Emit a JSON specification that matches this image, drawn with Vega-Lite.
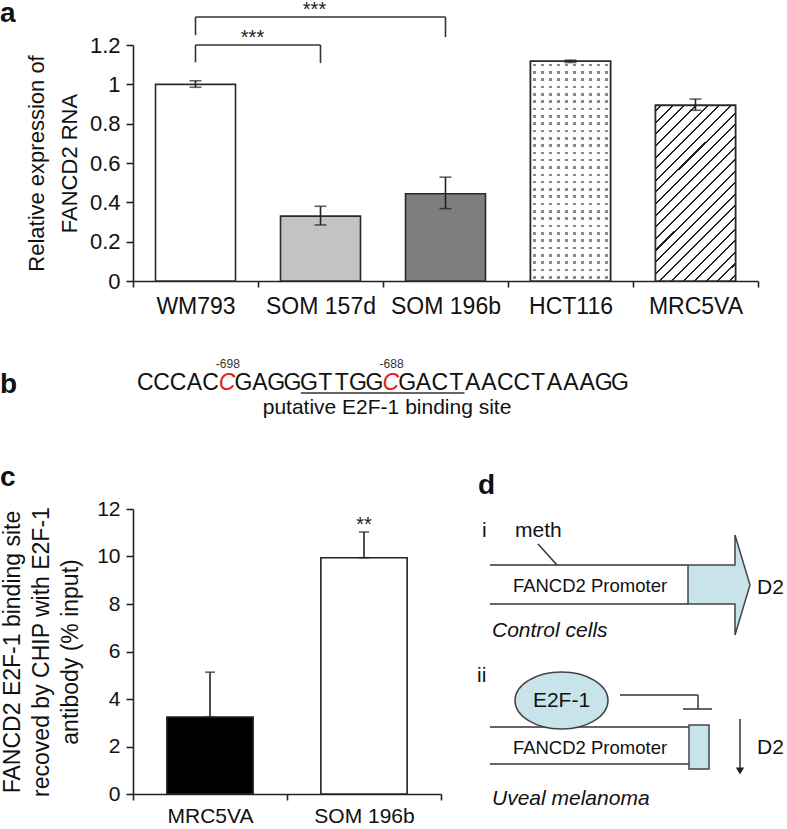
{
"$schema":"https://vega.github.io/schema/vega-lite/v6.json",
"background":"white",
"padding":0,
"config":{
 "font":"Liberation Sans",
 "view":{"stroke":null},
 "axis":{"grid":false,"domainColor":"#222222","tickColor":"#222222","domainWidth":1.6,"tickWidth":1.6,"labelColor":"#111111","titleColor":"#111111","labelFont":"Liberation Sans","titleFont":"Liberation Sans","titleFontWeight":"normal","labelOverlap":false},
 "title":{"font":"Liberation Sans","fontWeight":"bold","fontSize":28,"anchor":"start","frame":"group","color":"#111111","baseline":"alphabetic"}
},
"resolve":{"scale":{"color":"independent"}},
"datasets":{
 "expr":[
  {"cell":"WM793","value":1.0,"lo":0.985,"hi":1.018},
  {"cell":"SOM 157d","value":0.33,"lo":0.285,"hi":0.38},
  {"cell":"SOM 196b","value":0.444,"lo":0.368,"hi":0.528},
  {"cell":"HCT116","value":1.117,"lo":1.111,"hi":1.123},
  {"cell":"MRC5VA","value":0.893,"lo":0.868,"hi":0.925}
 ],
 "brackets":[
  {"pair":"low","from":"WM793","to":"SOM 157d","level":1.2,"legL":1.112,"legR":1.108,"stars":"***"},
  {"pair":"high","from":"WM793","to":"SOM 196b","level":1.342,"legL":1.25,"legR":1.24,"stars":"***"}
 ],
 "chip":[
  {"cell":"MRC5VA","value":3.24,"hi":5.13},
  {"cell":"SOM 196b","value":9.95,"hi":11.03,"sig":"**"}
 ],
 "seq":[
  {"i":0,"ch":"C","meth":false},{"i":1,"ch":"C","meth":false},{"i":2,"ch":"C","meth":false},{"i":3,"ch":"A","meth":false},{"i":4,"ch":"C","meth":false},
  {"i":5,"ch":"C","meth":true,"pos":"-698"},
  {"i":6,"ch":"G","meth":false},{"i":7,"ch":"A","meth":false},{"i":8,"ch":"G","meth":false},{"i":9,"ch":"G","meth":false},
  {"i":10,"ch":"G","meth":false},{"i":11,"ch":"T","meth":false},{"i":12,"ch":"T","meth":false},{"i":13,"ch":"G","meth":false},{"i":14,"ch":"G","meth":false},
  {"i":15,"ch":"C","meth":true,"pos":"-688"},
  {"i":16,"ch":"G","meth":false},{"i":17,"ch":"A","meth":false},{"i":18,"ch":"C","meth":false},{"i":19,"ch":"T","meth":false},
  {"i":20,"ch":"A","meth":false},{"i":21,"ch":"A","meth":false},{"i":22,"ch":"C","meth":false},{"i":23,"ch":"C","meth":false},{"i":24,"ch":"T","meth":false},
  {"i":25,"ch":"A","meth":false},{"i":26,"ch":"A","meth":false},{"i":27,"ch":"A","meth":false},{"i":28,"ch":"G","meth":false},{"i":29,"ch":"G","meth":false}
 ],
 "sites":[{"start":10,"end":20,"label":"putative E2F-1 binding site"}],
 "segments":[
  {"x":63,"y":35,"x2":82,"y2":56},
  {"x":15,"y":56,"x2":213,"y2":56},
  {"x":15,"y":95,"x2":213,"y2":95},
  {"x":15,"y":218,"x2":214,"y2":218},
  {"x":15,"y":255,"x2":214,"y2":255},
  {"x":145,"y":186,"x2":223,"y2":186},
  {"x":223,"y":186,"x2":223,"y2":200},
  {"x":208,"y":200,"x2":237,"y2":200},
  {"x":265,"y":210,"x2":265,"y2":259}
 ],
 "arrow":[
  {"k":0,"x":213,"y":56},{"k":1,"x":260,"y":56},{"k":2,"x":260,"y":26},{"k":3,"x":275,"y":76},
  {"k":4,"x":260,"y":126},{"k":5,"x":260,"y":95},{"k":6,"x":213,"y":95},{"k":7,"x":213,"y":56}
 ],
 "block":[{"x":214,"x2":234,"y":216,"y2":260}],
 "e2f":[{"x":86.5,"y":191.5,"label":"E2F-1"}],
 "arrowhead":[{"x":265,"y":262}],
 "notes":[
  {"kind":"roman","text":"i","x":7,"y":28},
  {"kind":"roman","text":"meth","x":40,"y":28},
  {"kind":"roman","text":"D2","x":282,"y":85},
  {"kind":"roman","text":"ii","x":2,"y":173},
  {"kind":"roman","text":"D2","x":282,"y":245},
  {"kind":"promoter","text":"FANCD2 Promoter","x":115,"y":83},
  {"kind":"promoter","text":"FANCD2 Promoter","x":115,"y":245},
  {"kind":"cells","text":"Control cells","x":17,"y":128},
  {"kind":"cells","text":"Uveal melanoma","x":17,"y":296}
 ]
},
"spacing":66,
"bounds":"flush",
"vconcat":[
 {
  "width":625,"height":236,
  "title":{"text":"a","dx":-133,"offset":-28},
  "data":{"name":"expr"},
  "resolve":{"axis":{"x":"independent","y":"independent"}},
  "layer":[
   {"mark":{"type":"bar","stroke":"#2a2a2a","strokeWidth":1.6,"width":{"band":0.64}},
    "encoding":{
     "x":{"field":"cell","type":"nominal","scale":{"domain":["WM793","SOM 157d","SOM 196b","HCT116","MRC5VA"],"paddingInner":0,"paddingOuter":0},"axis":{"title":null,"labelAngle":0,"tickBand":"extent","tickSize":6,"labelPadding":8,"labelFontSize":23}},
     "y":{"field":"value","type":"quantitative","scale":{"domain":[0,1.2],"nice":false},"axis":{"title":["Relative expression of","FANCD2 RNA"],"values":[0,0.2,0.4,0.6,0.8,1,1.2],"format":".1~f","tickSize":7,"labelPadding":6,"labelFontSize":22,"titleFontSize":22,"titleLineHeight":33,"titlePadding":8}},
     "color":{"field":"cell","type":"nominal","scale":{"domain":["WM793","SOM 157d","SOM 196b","HCT116","MRC5VA"],"range":["#ffffff","#c3c3c3","#7e7e7e","#ffffff","#ffffff"]},"legend":null}
    }},
   {"transform":[{"filter":"datum.cell === 'HCT116'"}],
    "mark":{"type":"bar","strokeWidth":0,"width":{"band":0.64},"fill":{"gradient":"linear","x1":0,"y1":0,"x2":1,"y2":0,"stops":[
     {"offset":0,"color":"#ffffff"},
     {"offset":0.034,"color":"#ffffff"},{"offset":0.034,"color":"#8a8a8a"},{"offset":0.066,"color":"#8a8a8a"},{"offset":0.066,"color":"#ffffff"},
     {"offset":0.134,"color":"#ffffff"},{"offset":0.134,"color":"#8a8a8a"},{"offset":0.166,"color":"#8a8a8a"},{"offset":0.166,"color":"#ffffff"},
     {"offset":0.234,"color":"#ffffff"},{"offset":0.234,"color":"#8a8a8a"},{"offset":0.266,"color":"#8a8a8a"},{"offset":0.266,"color":"#ffffff"},
     {"offset":0.334,"color":"#ffffff"},{"offset":0.334,"color":"#8a8a8a"},{"offset":0.366,"color":"#8a8a8a"},{"offset":0.366,"color":"#ffffff"},
     {"offset":0.434,"color":"#ffffff"},{"offset":0.434,"color":"#8a8a8a"},{"offset":0.466,"color":"#8a8a8a"},{"offset":0.466,"color":"#ffffff"},
     {"offset":0.534,"color":"#ffffff"},{"offset":0.534,"color":"#8a8a8a"},{"offset":0.566,"color":"#8a8a8a"},{"offset":0.566,"color":"#ffffff"},
     {"offset":0.634,"color":"#ffffff"},{"offset":0.634,"color":"#8a8a8a"},{"offset":0.666,"color":"#8a8a8a"},{"offset":0.666,"color":"#ffffff"},
     {"offset":0.734,"color":"#ffffff"},{"offset":0.734,"color":"#8a8a8a"},{"offset":0.766,"color":"#8a8a8a"},{"offset":0.766,"color":"#ffffff"},
     {"offset":0.834,"color":"#ffffff"},{"offset":0.834,"color":"#8a8a8a"},{"offset":0.866,"color":"#8a8a8a"},{"offset":0.866,"color":"#ffffff"},
     {"offset":0.934,"color":"#ffffff"},{"offset":0.934,"color":"#8a8a8a"},{"offset":0.966,"color":"#8a8a8a"},{"offset":0.966,"color":"#ffffff"},
     {"offset":1,"color":"#ffffff"}]}},
    "encoding":{"x":{"field":"cell","type":"nominal","axis":null},"y":{"field":"value","type":"quantitative","axis":null}}},
   {"transform":[{"filter":"datum.cell === 'HCT116'"}],
    "mark":{"type":"bar","stroke":"#2a2a2a","strokeWidth":1.6,"width":{"band":0.64},"fill":{"gradient":"linear","x1":0,"y1":0,"x2":0,"y2":1,"stops":[
     {"offset":0,"color":"#ffffff"},
     {"offset":0.0107,"color":"#ffffff"},{"offset":0.0107,"color":"rgba(255,255,255,0)"},{"offset":0.0227,"color":"rgba(255,255,255,0)"},{"offset":0.0227,"color":"#ffffff"},
     {"offset":0.044,"color":"#ffffff"},{"offset":0.044,"color":"rgba(255,255,255,0)"},{"offset":0.056,"color":"rgba(255,255,255,0)"},{"offset":0.056,"color":"#ffffff"},
     {"offset":0.0773,"color":"#ffffff"},{"offset":0.0773,"color":"rgba(255,255,255,0)"},{"offset":0.0893,"color":"rgba(255,255,255,0)"},{"offset":0.0893,"color":"#ffffff"},
     {"offset":0.1107,"color":"#ffffff"},{"offset":0.1107,"color":"rgba(255,255,255,0)"},{"offset":0.1227,"color":"rgba(255,255,255,0)"},{"offset":0.1227,"color":"#ffffff"},
     {"offset":0.144,"color":"#ffffff"},{"offset":0.144,"color":"rgba(255,255,255,0)"},{"offset":0.156,"color":"rgba(255,255,255,0)"},{"offset":0.156,"color":"#ffffff"},
     {"offset":0.1773,"color":"#ffffff"},{"offset":0.1773,"color":"rgba(255,255,255,0)"},{"offset":0.1893,"color":"rgba(255,255,255,0)"},{"offset":0.1893,"color":"#ffffff"},
     {"offset":0.2107,"color":"#ffffff"},{"offset":0.2107,"color":"rgba(255,255,255,0)"},{"offset":0.2227,"color":"rgba(255,255,255,0)"},{"offset":0.2227,"color":"#ffffff"},
     {"offset":0.244,"color":"#ffffff"},{"offset":0.244,"color":"rgba(255,255,255,0)"},{"offset":0.256,"color":"rgba(255,255,255,0)"},{"offset":0.256,"color":"#ffffff"},
     {"offset":0.2773,"color":"#ffffff"},{"offset":0.2773,"color":"rgba(255,255,255,0)"},{"offset":0.2893,"color":"rgba(255,255,255,0)"},{"offset":0.2893,"color":"#ffffff"},
     {"offset":0.3107,"color":"#ffffff"},{"offset":0.3107,"color":"rgba(255,255,255,0)"},{"offset":0.3227,"color":"rgba(255,255,255,0)"},{"offset":0.3227,"color":"#ffffff"},
     {"offset":0.344,"color":"#ffffff"},{"offset":0.344,"color":"rgba(255,255,255,0)"},{"offset":0.356,"color":"rgba(255,255,255,0)"},{"offset":0.356,"color":"#ffffff"},
     {"offset":0.3773,"color":"#ffffff"},{"offset":0.3773,"color":"rgba(255,255,255,0)"},{"offset":0.3893,"color":"rgba(255,255,255,0)"},{"offset":0.3893,"color":"#ffffff"},
     {"offset":0.4107,"color":"#ffffff"},{"offset":0.4107,"color":"rgba(255,255,255,0)"},{"offset":0.4227,"color":"rgba(255,255,255,0)"},{"offset":0.4227,"color":"#ffffff"},
     {"offset":0.444,"color":"#ffffff"},{"offset":0.444,"color":"rgba(255,255,255,0)"},{"offset":0.456,"color":"rgba(255,255,255,0)"},{"offset":0.456,"color":"#ffffff"},
     {"offset":0.4773,"color":"#ffffff"},{"offset":0.4773,"color":"rgba(255,255,255,0)"},{"offset":0.4893,"color":"rgba(255,255,255,0)"},{"offset":0.4893,"color":"#ffffff"},
     {"offset":0.5107,"color":"#ffffff"},{"offset":0.5107,"color":"rgba(255,255,255,0)"},{"offset":0.5227,"color":"rgba(255,255,255,0)"},{"offset":0.5227,"color":"#ffffff"},
     {"offset":0.544,"color":"#ffffff"},{"offset":0.544,"color":"rgba(255,255,255,0)"},{"offset":0.556,"color":"rgba(255,255,255,0)"},{"offset":0.556,"color":"#ffffff"},
     {"offset":0.5773,"color":"#ffffff"},{"offset":0.5773,"color":"rgba(255,255,255,0)"},{"offset":0.5893,"color":"rgba(255,255,255,0)"},{"offset":0.5893,"color":"#ffffff"},
     {"offset":0.6107,"color":"#ffffff"},{"offset":0.6107,"color":"rgba(255,255,255,0)"},{"offset":0.6227,"color":"rgba(255,255,255,0)"},{"offset":0.6227,"color":"#ffffff"},
     {"offset":0.644,"color":"#ffffff"},{"offset":0.644,"color":"rgba(255,255,255,0)"},{"offset":0.656,"color":"rgba(255,255,255,0)"},{"offset":0.656,"color":"#ffffff"},
     {"offset":0.6773,"color":"#ffffff"},{"offset":0.6773,"color":"rgba(255,255,255,0)"},{"offset":0.6893,"color":"rgba(255,255,255,0)"},{"offset":0.6893,"color":"#ffffff"},
     {"offset":0.7107,"color":"#ffffff"},{"offset":0.7107,"color":"rgba(255,255,255,0)"},{"offset":0.7227,"color":"rgba(255,255,255,0)"},{"offset":0.7227,"color":"#ffffff"},
     {"offset":0.744,"color":"#ffffff"},{"offset":0.744,"color":"rgba(255,255,255,0)"},{"offset":0.756,"color":"rgba(255,255,255,0)"},{"offset":0.756,"color":"#ffffff"},
     {"offset":0.7773,"color":"#ffffff"},{"offset":0.7773,"color":"rgba(255,255,255,0)"},{"offset":0.7893,"color":"rgba(255,255,255,0)"},{"offset":0.7893,"color":"#ffffff"},
     {"offset":0.8107,"color":"#ffffff"},{"offset":0.8107,"color":"rgba(255,255,255,0)"},{"offset":0.8227,"color":"rgba(255,255,255,0)"},{"offset":0.8227,"color":"#ffffff"},
     {"offset":0.844,"color":"#ffffff"},{"offset":0.844,"color":"rgba(255,255,255,0)"},{"offset":0.856,"color":"rgba(255,255,255,0)"},{"offset":0.856,"color":"#ffffff"},
     {"offset":0.8773,"color":"#ffffff"},{"offset":0.8773,"color":"rgba(255,255,255,0)"},{"offset":0.8893,"color":"rgba(255,255,255,0)"},{"offset":0.8893,"color":"#ffffff"},
     {"offset":0.9107,"color":"#ffffff"},{"offset":0.9107,"color":"rgba(255,255,255,0)"},{"offset":0.9227,"color":"rgba(255,255,255,0)"},{"offset":0.9227,"color":"#ffffff"},
     {"offset":0.944,"color":"#ffffff"},{"offset":0.944,"color":"rgba(255,255,255,0)"},{"offset":0.956,"color":"rgba(255,255,255,0)"},{"offset":0.956,"color":"#ffffff"},
     {"offset":0.9773,"color":"#ffffff"},{"offset":0.9773,"color":"rgba(255,255,255,0)"},{"offset":0.9893,"color":"rgba(255,255,255,0)"},{"offset":0.9893,"color":"#ffffff"},
     {"offset":1,"color":"#ffffff"}]}},
    "encoding":{"x":{"field":"cell","type":"nominal","axis":null},"y":{"field":"value","type":"quantitative","axis":null}}},
   {"transform":[{"filter":"datum.cell === 'MRC5VA'"}],
    "mark":{"type":"bar","stroke":"#2a2a2a","strokeWidth":1.6,"width":{"band":0.64},"fill":{"gradient":"linear","x1":0,"y1":0,"x2":0.548,"y2":1.205,"stops":[
     {"offset":0,"color":"#ffffff"},
     {"offset":0.0187,"color":"#ffffff"},{"offset":0.0187,"color":"#222222"},{"offset":0.0267,"color":"#222222"},{"offset":0.0267,"color":"#ffffff"},
     {"offset":0.0642,"color":"#ffffff"},{"offset":0.0642,"color":"#222222"},{"offset":0.0722,"color":"#222222"},{"offset":0.0722,"color":"#ffffff"},
     {"offset":0.1096,"color":"#ffffff"},{"offset":0.1096,"color":"#222222"},{"offset":0.1176,"color":"#222222"},{"offset":0.1176,"color":"#ffffff"},
     {"offset":0.1551,"color":"#ffffff"},{"offset":0.1551,"color":"#222222"},{"offset":0.1631,"color":"#222222"},{"offset":0.1631,"color":"#ffffff"},
     {"offset":0.2005,"color":"#ffffff"},{"offset":0.2005,"color":"#222222"},{"offset":0.2085,"color":"#222222"},{"offset":0.2085,"color":"#ffffff"},
     {"offset":0.246,"color":"#ffffff"},{"offset":0.246,"color":"#222222"},{"offset":0.254,"color":"#222222"},{"offset":0.254,"color":"#ffffff"},
     {"offset":0.2915,"color":"#ffffff"},{"offset":0.2915,"color":"#222222"},{"offset":0.2995,"color":"#222222"},{"offset":0.2995,"color":"#ffffff"},
     {"offset":0.3369,"color":"#ffffff"},{"offset":0.3369,"color":"#222222"},{"offset":0.3449,"color":"#222222"},{"offset":0.3449,"color":"#ffffff"},
     {"offset":0.3824,"color":"#ffffff"},{"offset":0.3824,"color":"#222222"},{"offset":0.3904,"color":"#222222"},{"offset":0.3904,"color":"#ffffff"},
     {"offset":0.4278,"color":"#ffffff"},{"offset":0.4278,"color":"#222222"},{"offset":0.4358,"color":"#222222"},{"offset":0.4358,"color":"#ffffff"},
     {"offset":0.4733,"color":"#ffffff"},{"offset":0.4733,"color":"#222222"},{"offset":0.4813,"color":"#222222"},{"offset":0.4813,"color":"#ffffff"},
     {"offset":0.5187,"color":"#ffffff"},{"offset":0.5187,"color":"#222222"},{"offset":0.5267,"color":"#222222"},{"offset":0.5267,"color":"#ffffff"},
     {"offset":0.5642,"color":"#ffffff"},{"offset":0.5642,"color":"#222222"},{"offset":0.5722,"color":"#222222"},{"offset":0.5722,"color":"#ffffff"},
     {"offset":0.6096,"color":"#ffffff"},{"offset":0.6096,"color":"#222222"},{"offset":0.6176,"color":"#222222"},{"offset":0.6176,"color":"#ffffff"},
     {"offset":0.6551,"color":"#ffffff"},{"offset":0.6551,"color":"#222222"},{"offset":0.6631,"color":"#222222"},{"offset":0.6631,"color":"#ffffff"},
     {"offset":0.7005,"color":"#ffffff"},{"offset":0.7005,"color":"#222222"},{"offset":0.7085,"color":"#222222"},{"offset":0.7085,"color":"#ffffff"},
     {"offset":0.746,"color":"#ffffff"},{"offset":0.746,"color":"#222222"},{"offset":0.754,"color":"#222222"},{"offset":0.754,"color":"#ffffff"},
     {"offset":0.7915,"color":"#ffffff"},{"offset":0.7915,"color":"#222222"},{"offset":0.7995,"color":"#222222"},{"offset":0.7995,"color":"#ffffff"},
     {"offset":0.8369,"color":"#ffffff"},{"offset":0.8369,"color":"#222222"},{"offset":0.8449,"color":"#222222"},{"offset":0.8449,"color":"#ffffff"},
     {"offset":0.8824,"color":"#ffffff"},{"offset":0.8824,"color":"#222222"},{"offset":0.8904,"color":"#222222"},{"offset":0.8904,"color":"#ffffff"},
     {"offset":0.9278,"color":"#ffffff"},{"offset":0.9278,"color":"#222222"},{"offset":0.9358,"color":"#222222"},{"offset":0.9358,"color":"#ffffff"},
     {"offset":0.9733,"color":"#ffffff"},{"offset":0.9733,"color":"#222222"},{"offset":0.9813,"color":"#222222"},{"offset":0.9813,"color":"#ffffff"},
     {"offset":1,"color":"#ffffff"}]}},
    "encoding":{"x":{"field":"cell","type":"nominal","axis":null},"y":{"field":"value","type":"quantitative","axis":null}}},
   {"mark":{"type":"errorbar","ticks":{"size":12},"color":"#222222","thickness":1.6},
    "encoding":{"x":{"field":"cell","type":"nominal","axis":null},"y":{"field":"lo","type":"quantitative","axis":null},"y2":{"field":"hi"}}},
   {"data":{"name":"brackets"},"mark":{"type":"rule","color":"#333333","strokeWidth":1.6},
    "encoding":{"x":{"field":"from","type":"nominal","bandPosition":0.5,"axis":null},"x2":{"field":"to","bandPosition":0.5},"y":{"field":"level","type":"quantitative","axis":null}}},
   {"data":{"name":"brackets"},"mark":{"type":"rule","color":"#333333","strokeWidth":1.6},
    "encoding":{"x":{"field":"from","type":"nominal","bandPosition":0.5,"axis":null},"y":{"field":"level","type":"quantitative","axis":null},"y2":{"field":"legL"}}},
   {"data":{"name":"brackets"},"mark":{"type":"rule","color":"#333333","strokeWidth":1.6},
    "encoding":{"x":{"field":"to","type":"nominal","bandPosition":0.5,"axis":null},"y":{"field":"level","type":"quantitative","axis":null},"y2":{"field":"legR"}}},
   {"data":{"name":"brackets"},"transform":[{"filter":"datum.pair === 'low'"}],
    "mark":{"type":"text","fontSize":20,"color":"#222222","baseline":"alphabetic","dx":57,"dy":-1},
    "encoding":{"x":{"field":"from","type":"nominal","bandPosition":0.5,"axis":null},"y":{"field":"level","type":"quantitative","axis":null},"text":{"field":"stars"}}},
   {"data":{"name":"brackets"},"transform":[{"filter":"datum.pair === 'high'"}],
    "mark":{"type":"text","fontSize":20,"color":"#222222","baseline":"alphabetic","dx":119,"dy":-1},
    "encoding":{"x":{"field":"from","type":"nominal","bandPosition":0.5,"axis":null},"y":{"field":"level","type":"quantitative","axis":null},"text":{"field":"stars"}}}
  ]
 },
 {
  "width":625,"height":96,
  "title":{"text":"b","dx":-133,"offset":-52},
  "data":{"name":"seq"},
  "layer":[
   {"transform":[{"filter":"!datum.meth"}],
    "mark":{"type":"text","fontSize":23,"color":"#111111","baseline":"alphabetic","align":"center","dx":8.2},
    "encoding":{"x":{"field":"i","type":"quantitative","scale":{"domain":[-0.244,37.93],"nice":false,"zero":false},"axis":null},
     "y":{"datum":43,"type":"quantitative","scale":{"domain":[0,96],"nice":false,"zero":false,"reverse":true},"axis":null},
     "text":{"field":"ch"}}},
   {"transform":[{"filter":"datum.meth"}],
    "mark":{"type":"text","fontSize":23,"color":"#e0201b","fontStyle":"italic","baseline":"alphabetic","align":"center","dx":8.2},
    "encoding":{"x":{"field":"i","type":"quantitative"},"y":{"datum":43,"type":"quantitative"},"text":{"field":"ch"}}},
   {"transform":[{"filter":"datum.meth"}],
    "mark":{"type":"text","fontSize":12,"color":"#333333","baseline":"alphabetic","align":"center","dx":9},
    "encoding":{"x":{"field":"i","type":"quantitative"},"y":{"datum":21,"type":"quantitative"},"text":{"field":"pos"}}},
   {"data":{"name":"sites"},"mark":{"type":"rule","color":"#333333","strokeWidth":1.5},
    "encoding":{"x":{"field":"start","type":"quantitative"},"x2":{"field":"end"},"y":{"datum":46,"type":"quantitative"}}},
   {"data":{"name":"sites"},"mark":{"type":"text","fontSize":21,"color":"#111111","align":"left","baseline":"alphabetic","dx":-38},
    "encoding":{"x":{"field":"start","type":"quantitative"},"y":{"datum":67,"type":"quantitative"},"text":{"field":"label"}}}
  ]
 },
 {
  "hconcat":[
   {
    "width":308,"height":285,
    "title":{"text":"c","dx":-133,"offset":6},
    "data":{"name":"chip"},
    "resolve":{"axis":{"x":"independent","y":"independent"}},
    "layer":[
     {"mark":{"type":"bar","stroke":"#222222","strokeWidth":1.6,"width":{"band":0.56}},
      "encoding":{
       "x":{"field":"cell","type":"nominal","scale":{"domain":["MRC5VA","SOM 196b"],"paddingInner":0,"paddingOuter":0},"axis":{"title":null,"labelAngle":0,"tickBand":"extent","tickSize":6,"labelPadding":5,"labelFontSize":21}},
       "y":{"field":"value","type":"quantitative","scale":{"domain":[0,12],"nice":false},"axis":{"title":["FANCD2 E2F-1 binding site","recoved by CHIP with E2F-1","antibody (% input)"],"values":[0,2,4,6,8,10,12],"tickSize":7,"labelPadding":6,"labelFontSize":21,"titleFontSize":23,"titleLineHeight":29,"titlePadding":14}},
       "color":{"field":"cell","type":"nominal","scale":{"domain":["MRC5VA","SOM 196b"],"range":["#000000","#ffffff"]},"legend":null}
      }},
     {"mark":{"type":"errorbar","ticks":{"size":10},"color":"#222222","thickness":1.6},
      "encoding":{"x":{"field":"cell","type":"nominal","axis":null},"y":{"field":"value","type":"quantitative","axis":null},"y2":{"field":"hi"}}},
     {"transform":[{"filter":"datum.sig"}],
      "mark":{"type":"text","fontSize":20,"color":"#222222","baseline":"alphabetic","dy":-1},
      "encoding":{"x":{"field":"cell","type":"nominal","axis":null},"y":{"field":"hi","type":"quantitative","axis":null},"text":{"field":"sig"}}}
    ]
   },
   {
    "width":312,"height":303,
    "title":{"text":"d","dx":3,"offset":9},
    "layer":[
     {"data":{"name":"segments"},"mark":{"type":"rule","color":"#333333","strokeWidth":1.5},
      "encoding":{"x":{"field":"x","type":"quantitative","scale":{"domain":[0,312],"nice":false,"zero":false},"axis":null},
       "y":{"field":"y","type":"quantitative","scale":{"domain":[0,303],"nice":false,"zero":false,"reverse":true},"axis":null},
       "x2":{"field":"x2"},"y2":{"field":"y2"}}},
     {"data":{"name":"arrow"},"mark":{"type":"line","fill":"#c8e4ea","stroke":"#444444","strokeWidth":1.5,"strokeJoin":"miter"},
      "encoding":{"x":{"field":"x","type":"quantitative"},"y":{"field":"y","type":"quantitative"},"order":{"field":"k","type":"quantitative"}}},
     {"data":{"name":"block"},"mark":{"type":"rect","fill":"#c8e4ea","stroke":"#444444","strokeWidth":1.5},
      "encoding":{"x":{"field":"x","type":"quantitative"},"x2":{"field":"x2"},"y":{"field":"y","type":"quantitative"},"y2":{"field":"y2"}}},
     {"data":{"name":"e2f"},"mark":{"type":"point","shape":"M-1,0A1,0.613,0,1,1,1,0A1,0.613,0,1,1,-1,0Z","size":8649,"filled":true,"fill":"#c8e4ea","stroke":"#444444","strokeWidth":1.5,"opacity":1},
      "encoding":{"x":{"field":"x","type":"quantitative"},"y":{"field":"y","type":"quantitative"}}},
     {"data":{"name":"e2f"},"mark":{"type":"text","fontSize":21,"color":"#111111","align":"center","baseline":"middle"},
      "encoding":{"x":{"field":"x","type":"quantitative"},"y":{"field":"y","type":"quantitative"},"text":{"field":"label"}}},
     {"data":{"name":"arrowhead"},"mark":{"type":"point","shape":"triangle-down","size":70,"filled":true,"color":"#222222","opacity":1},
      "encoding":{"x":{"field":"x","type":"quantitative"},"y":{"field":"y","type":"quantitative"}}},
     {"data":{"name":"notes"},"transform":[{"filter":"datum.kind === 'roman'"}],
      "mark":{"type":"text","fontSize":21,"color":"#111111","align":"left","baseline":"alphabetic"},
      "encoding":{"x":{"field":"x","type":"quantitative"},"y":{"field":"y","type":"quantitative"},"text":{"field":"text"}}},
     {"data":{"name":"notes"},"transform":[{"filter":"datum.kind === 'promoter'"}],
      "mark":{"type":"text","fontSize":18.5,"color":"#111111","align":"center","baseline":"alphabetic"},
      "encoding":{"x":{"field":"x","type":"quantitative"},"y":{"field":"y","type":"quantitative"},"text":{"field":"text"}}},
     {"data":{"name":"notes"},"transform":[{"filter":"datum.kind === 'cells'"}],
      "mark":{"type":"text","fontSize":21,"fontStyle":"italic","color":"#111111","align":"left","baseline":"alphabetic"},
      "encoding":{"x":{"field":"x","type":"quantitative"},"y":{"field":"y","type":"quantitative"},"text":{"field":"text"}}}
    ]
   }
  ],
  "spacing":34,
  "bounds":"flush"
 }
]
}
